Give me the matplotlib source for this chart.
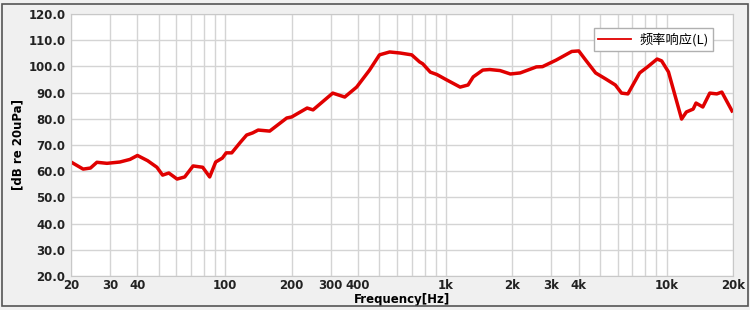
import matplotlib
matplotlib.use("Agg")
import matplotlib.pyplot as plt
from matplotlib.patches import Rectangle
from matplotlib.ticker import FixedLocator, NullFormatter, LogLocator
import numpy as np

plt.rcParams["font.family"] = ["DejaVu Sans", "Noto Sans CJK SC"]

# frequency response
freq_hz = [
    20, 22.7, 24.5, 26.2, 29.1, 33.3, 37, 40, 44.5, 49, 52, 55.5, 60.5, 65.5,
    71.5, 79, 85, 90.5, 97, 101, 107, 117, 125, 133, 141, 159, 190, 200,
    235, 250, 307, 348, 394, 450, 500, 556, 620, 700, 760, 785, 850, 910,
    1000, 1160, 1260, 1330, 1470, 1580, 1760, 1960, 2170, 2570, 2740, 3160,
    3720, 4000, 4300, 4770, 5300, 5860, 6250, 6680, 7550, 8200, 9060, 9500,
    10200, 11700, 12300, 13200, 13600, 14600, 15700, 16900, 17800, 19800,
]
level_db = [
    63.5, 60.8, 61.2, 63.4, 63.0, 63.5, 64.5, 66.0, 64.0, 61.5, 58.5, 59.3,
    57.0, 57.8, 62.0, 61.5, 57.8, 63.5, 65.0, 67.0, 67.0, 71.0, 73.8, 74.6,
    75.7, 75.3, 80.3, 80.7, 84.1, 83.4, 89.8, 88.3, 92.1, 98.5, 104.4, 105.5,
    105.1, 104.4, 101.7, 101.0, 97.8, 96.9, 95.0, 92.1, 92.9, 96.0, 98.6,
    98.8, 98.4, 97.1, 97.5, 99.8, 99.9, 102.4, 105.7, 105.9, 102.4, 97.5,
    95.2, 92.9, 89.8, 89.5, 97.5, 99.8, 102.8, 102.1, 97.9, 79.9, 82.6, 83.7,
    86.0, 84.5, 89.8, 89.5, 90.2, 83.0,
]

x_ticks = [20, 30, 40, 100, 200, 300, 400, 1000, 2000, 3000, 4000, 10000, 20000]
x_tick_labels = ["20", "30", "40", "100", "200", "300", "400", "1k", "2k", "3k",
                 "4k", "10k", "20k"]
y_ticks = np.arange(20, 121, 10)
series_name = "频率响应(L)"


def main():
    fig = plt.figure(figsize=(7.5, 3.1), dpi=100, facecolor="#f0f0f0")
    fig.patches.append(Rectangle((0.003, 0.013), 0.994, 0.974, transform=fig.transFigure,
                                 fill=False, edgecolor="#555555", linewidth=1.2))
    ax = fig.add_axes([0.0947, 0.1097, 0.8826, 0.8452])
    ax.set_facecolor("white")

    ax.plot(freq_hz, level_db, color="#e00000", linewidth=2.5, label=series_name)

    ax.set_xscale("log")
    ax.set_xlim(20, 20000)
    ax.set_ylim(20, 120)

    ax.xaxis.set_major_locator(FixedLocator(x_ticks))
    ax.set_xticklabels(x_tick_labels)
    ax.xaxis.set_minor_locator(LogLocator(base=10, subs=np.arange(2, 10)))
    ax.xaxis.set_minor_formatter(NullFormatter())
    ax.set_yticks(y_ticks)
    ax.set_yticklabels([f"{v:.1f}" for v in y_ticks])

    ax.grid(True, which="both", color="#d4d4d4", linewidth=1.0)
    ax.set_axisbelow(True)
    for s in ax.spines.values():
        s.set_color("#c8c8c8")

    ax.tick_params(axis="x", which="both", length=0, labelsize=8.5, colors="#222222", pad=2)
    ax.tick_params(axis="y", which="both", length=0, labelsize=8.5, colors="#222222", pad=4)
    for lab in ax.get_xticklabels() + ax.get_yticklabels():
        lab.set_fontweight("bold")

    ax.set_xlabel("Frequency[Hz]", fontsize=8.5, fontweight="bold", labelpad=1)
    ax.set_ylabel("[dB re 20uPa]", fontsize=8.5, fontweight="bold", labelpad=3)

    leg = ax.legend(loc="upper right", bbox_to_anchor=(0.98, 0.97),
                    prop={"family": ["Noto Sans CJK SC", "DejaVu Sans"], "size": 9.5},
                    fancybox=False, framealpha=1, edgecolor="#b0b0b0",
                    handlelength=2.5, handletextpad=0.6, borderpad=0.35)
    for line in leg.get_lines():
        line.set_linewidth(1.3)

    fig.savefig("out.png", dpi=100, facecolor=fig.get_facecolor())


if __name__ == "__main__":
    main()
